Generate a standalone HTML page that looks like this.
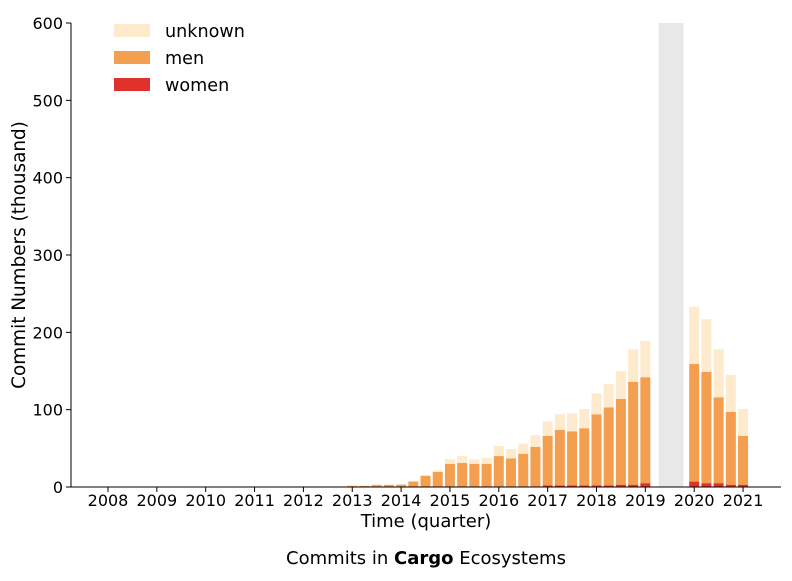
<!DOCTYPE html>
<html><head><meta charset="utf-8"><style>
body{margin:0;background:#fff;}
svg text{font-family:"DejaVu Sans","Liberation Sans",sans-serif;fill:#000;}
</style></head><body>
<svg id="c" width="792" height="576" xmlns="http://www.w3.org/2000/svg"></svg>
<script>
const quarters=[2011,2011.25,2011.5,2011.75,2012,2012.25,2012.5,2012.75,2013,2013.25,2013.5,2013.75,2014,2014.25,2014.5,2014.75,2015,2015.25,2015.5,2015.75,2016,2016.25,2016.5,2016.75,2017,2017.25,2017.5,2017.75,2018,2018.25,2018.5,2018.75,2019,2020,2020.25,2020.5,2020.75,2021];
const women=[0,0,0,0,0,0,0,0,0,0,0,0,0,0,0,0,1,1,1,1,1,1,1,1,2,2,2,2,2,2,3,3,5,7,5,5,3,3];
const menTop=[0,0.2,0.2,0.2,0.3,0.3,0.3,0.5,1.5,1.5,2.5,2.6,3,7,14.5,19.5,30,31,30,30,40,37,43,52,66,74,72,76,94,103,114,136,142,159,149,116,97,66];
const totals=[0.3,0.6,0.6,0.6,0.7,0.7,0.7,0.9,2,2,3.5,3.5,4,8,15.5,21.5,36,40,36,37.5,53,49,56,67,85,94,95,101,121,133,150,178,189,233,217,178,145,101];
const men=menTop.map((v,i)=>v-women[i]);
const unknown=totals.map((v,i)=>v-menTop[i]);
const yTicks=[0,100,200,300,400,500,600];
const xTicks=[2008,2009,2010,2011,2012,2013,2014,2015,2016,2017,2018,2019,2020,2021];
const gap=[2019.27,2019.78];

const svg=document.getElementById('c');
const NS='http://www.w3.org/2000/svg';
const X=v=>108+(v-2008)*48.85;
const Y=v=>487-v*(464/600);
function mk(tag,attrs,parent){const e=document.createElementNS(NS,tag);for(const k in attrs)e.setAttribute(k,attrs[k]);(parent||svg).appendChild(e);return e;}

const g=mk('rect',{x:X(gap[0]),y:Y(600),width:X(gap[1])-X(gap[0]),height:Y(0)-Y(600),fill:'#e8e8e8'});



const bw=10;
quarters.forEach((q,i)=>{
  const segs=[[0,women[i],'#e0312b','women'],[women[i],women[i]+men[i],'#f39f4f','men'],[women[i]+men[i],women[i]+men[i]+unknown[i],'#feeacc','unknown']];
  segs.forEach(s=>{
    if(s[1]<=s[0])return;
    const r=mk('rect',{x:X(q)-bw/2,y:Y(s[1]),width:bw,height:Y(s[0])-Y(s[1]),fill:s[2]});
    
    
  });
});

const ax=mk('line',{x1:71,y1:23,x2:71,y2:487,stroke:'#000','stroke-width':1});


const bx=mk('line',{x1:71,y1:487,x2:781,y2:487,stroke:'#000','stroke-width':1});



yTicks.forEach(t=>{
  mk('line',{x1:66,x2:71,y1:Y(t),y2:Y(t),stroke:'#000'});
  const tx=mk('text',{x:63,y:Y(t)+6,'text-anchor':'end','font-size':16});
  tx.textContent=t;
  
  
});
xTicks.forEach(t=>{
  mk('line',{x1:X(t),x2:X(t),y1:487,y2:492,stroke:'#000'});
  const tx=mk('text',{x:X(t),y:506,'text-anchor':'middle','font-size':16});
  tx.textContent=t;
  
  
});
</script>
<svg width="792" height="576" style="position:absolute;left:0;top:0">
<text x="426" y="527" text-anchor="middle" font-size="18">Time (quarter)</text>
<text transform="translate(25,255) rotate(-90)" text-anchor="middle" font-size="18.4">Commit Numbers (thousand)</text>
<text x="426" y="564" text-anchor="middle" font-size="18">Commits in <tspan font-weight="bold">Cargo</tspan> Ecosystems</text>
<g>
<rect x="114" y="24" width="36" height="13" fill="#feeacc"/>
<text x="165" y="37" font-size="17.6">unknown</text>
<rect x="114" y="51" width="36" height="13" fill="#f39f4f"/>
<text x="165" y="64" font-size="17.6">men</text>
<rect x="114" y="78" width="36" height="13" fill="#e0312b"/>
<text x="165" y="91" font-size="17.6">women</text>
</g>
</svg>
</body></html>
